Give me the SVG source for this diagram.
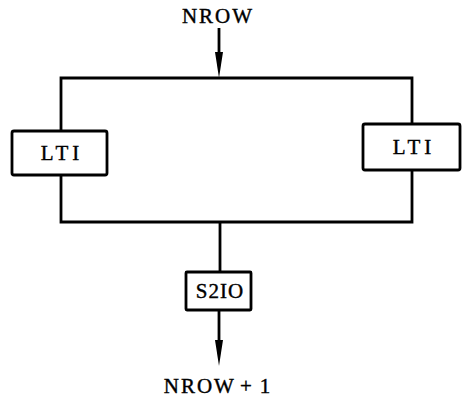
<svg xmlns="http://www.w3.org/2000/svg" width="469" height="400" viewBox="0 0 469 400">
<style>
.ln{stroke:#000;stroke-width:2.8;fill:none}
.box{stroke:#000;stroke-width:2.8;fill:#fff}
.ah{fill:#000}
text{font-family:"Liberation Serif","Times New Roman",serif;font-size:21px;fill:#000;stroke:#000;stroke-width:0.4;letter-spacing:2px;text-anchor:middle}
</style>
<g id="connectors">
<path class="ln" d="M219,28 V54"/>
<path class="ah" d="M215,52 L223,52 L219,78 Z"/>
<path class="ln" d="M61,131 V78 H412 V123"/>
<path class="ln" d="M61,175 V222 H412 V170"/>
<path class="ln" d="M220,222 V272"/>
<path class="ln" d="M219,310 V342"/>
<path class="ah" d="M215,340 L223,340 L219,366 Z"/>
</g>
<g id="in"><text x="218" y="23">NROW</text></g>
<g id="lti-left">
<rect class="box" x="12" y="131" width="95" height="44" rx="2"/>
<text x="62" y="160" style="letter-spacing:4px">LTI</text>
</g>
<g id="lti-right">
<rect class="box" x="363" y="124" width="97" height="46" rx="2"/>
<text x="414" y="154" style="letter-spacing:4px">LTI</text>
</g>
<g id="s2io">
<rect class="box" x="186" y="272" width="65" height="38" rx="1"/>
<text x="220" y="298" style="letter-spacing:1px">S2IO</text>
</g>
<g id="out"><text x="218" y="393">NROW<tspan dx="4">+</tspan><tspan dx="6">1</tspan></text></g>
</svg>
